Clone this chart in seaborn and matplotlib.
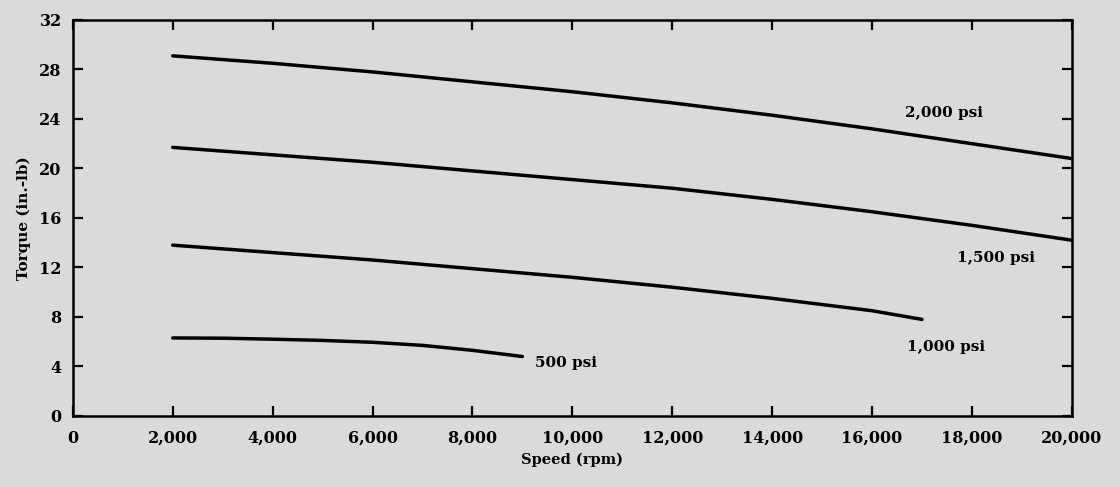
import matplotlib
matplotlib.use("Agg")
import matplotlib.pyplot as plt
import seaborn as sns
import pandas as pd

# Data
speed_2000 = [2000, 4000, 6000, 8000, 10000, 12000, 14000, 16000, 18000, 20000]
torque_2000 = [29.1, 28.5, 27.8, 27.0, 26.2, 25.3, 24.3, 23.2, 22.0, 20.8]

speed_1500 = [2000, 4000, 6000, 8000, 10000, 12000, 14000, 16000, 18000, 20000]
torque_1500 = [21.7, 21.1, 20.5, 19.8, 19.1, 18.4, 17.5, 16.5, 15.4, 14.2]

speed_1000 = [2000, 4000, 6000, 8000, 10000, 12000, 14000, 16000, 17000]
torque_1000 = [13.8, 13.2, 12.6, 11.9, 11.2, 10.4, 9.5, 8.5, 7.8]

speed_500 = [2000, 3000, 4000, 5000, 6000, 7000, 8000, 9000]
torque_500 = [6.3, 6.28, 6.2, 6.1, 5.95, 5.7, 5.3, 4.8]

series_names = ["2,000 psi", "1,500 psi", "1,000 psi", "500 psi"]
x_ticks = [0, 2000, 4000, 6000, 8000, 10000, 12000, 14000, 16000, 18000, 20000]
x_tick_labels = ["0", "2,000", "4,000", "6,000", "8,000", "10,000", "12,000",
                 "14,000", "16,000", "18,000", "20,000"]
y_ticks = [0, 4, 8, 12, 16, 20, 24, 28, 32]

frames = []
for name, xs, ys in zip(series_names,
                        [speed_2000, speed_1500, speed_1000, speed_500],
                        [torque_2000, torque_1500, torque_1000, torque_500]):
    frames.append(pd.DataFrame({"speed": xs, "torque": ys, "series": name}))
df = pd.concat(frames, ignore_index=True)

sns.set_theme(style="ticks")
bg = "#dadada"
plt.rcParams["font.family"] = ["DejaVu Serif"]
plt.rcParams["font.weight"] = "bold"

fig = plt.figure(figsize=(11.2, 4.87), dpi=100, facecolor=bg)
ax = fig.add_axes([0.065, 0.146, 0.892, 0.813])
ax.set_facecolor(bg)

sns.lineplot(data=df, x="speed", y="torque", units="series", estimator=None,
             color="black", linewidth=2.5, ax=ax, legend=False, sort=False)

ax.set_xlim(0, 20000)
ax.set_ylim(0, 32)
ax.set_xticks(x_ticks)
ax.set_xticklabels(x_tick_labels)
ax.set_yticks(y_ticks)

for s in ax.spines.values():
    s.set_visible(True)
    s.set_linewidth(1.8)
    s.set_color("black")

ax.tick_params(axis="both", direction="in", length=7, width=1.6, colors="black",
               labelsize=11.5, top=True, right=True)
ax.tick_params(axis="x", pad=10)
ax.tick_params(axis="y", pad=8)
for lbl in ax.get_xticklabels() + ax.get_yticklabels():
    lbl.set_fontweight("bold")

ax.set_xlabel("Speed (rpm)", fontsize=10.5, fontweight="bold", labelpad=4,
              color="black")
ax.set_ylabel("Torque (in.-lb)", fontsize=11, fontweight="bold", labelpad=6,
              color="black")

label_pos = {"2,000 psi": (17440, 24.5), "1,500 psi": (18480, 12.8),
             "1,000 psi": (17480, 5.6), "500 psi": (9880, 4.3)}
for name in series_names:
    x, y = label_pos[name]
    ax.text(x, y, name, ha="center", va="center", fontsize=11,
            fontweight="bold", color="black")

fig.savefig("out.png", dpi=100, facecolor=bg)
